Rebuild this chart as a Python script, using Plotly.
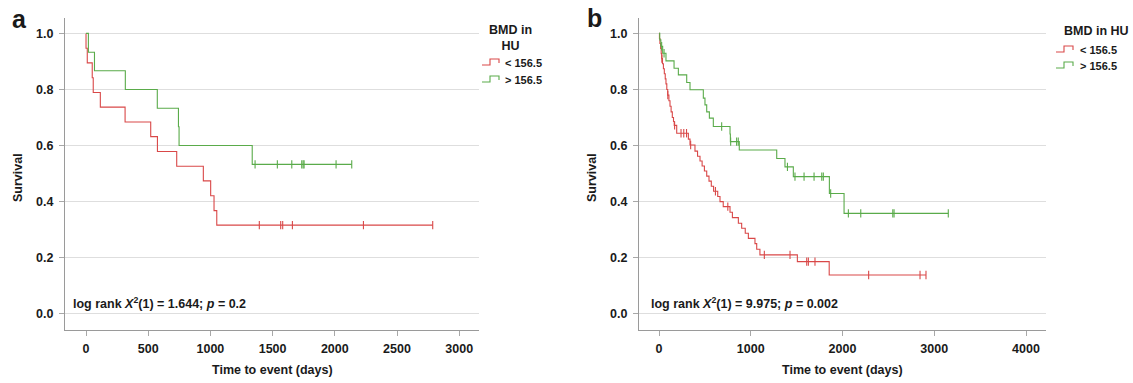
import plotly.graph_objects as go

# ---------------- data ----------------
# Panel a
a_low_event_t = [0, 10, 50, 58, 115, 314, 520, 574, 729, 943, 1002, 1029, 1051]
a_low_event_s = [0.947, 0.895, 0.842, 0.789, 0.737, 0.684, 0.632, 0.579, 0.526, 0.474, 0.421, 0.368, 0.316]
a_low_cens_t = [1393, 1565, 1581, 1659, 2230, 2787]

a_high_event_t = [19, 68, 316, 573, 743, 748, 1336]
a_high_event_s = [0.933, 0.867, 0.800, 0.733, 0.667, 0.600, 0.533]
a_high_cens_t = [1359, 1538, 1654, 1734, 1745, 1753, 2010, 2136]

# Panel b
b_low_event_t = [5, 10, 18, 24, 30, 38, 48, 58, 68, 76, 85, 95, 108, 120, 132, 145, 158, 166, 193,
                 320, 338, 392, 420, 447, 470, 495, 520, 545, 570, 595, 640, 665, 700, 774, 800,
                 865, 901, 940, 974, 1046, 1065, 1100, 1508, 1855]
b_low_event_s = [0.982, 0.964, 0.946, 0.928, 0.910, 0.892, 0.874, 0.856, 0.838, 0.820, 0.800, 0.780,
                 0.760, 0.740, 0.720, 0.700, 0.686, 0.672, 0.644, 0.623, 0.602, 0.580, 0.562, 0.545,
                 0.527, 0.509, 0.491, 0.473, 0.455, 0.437, 0.418, 0.400, 0.382, 0.362, 0.343, 0.323,
                 0.305, 0.287, 0.269, 0.250, 0.230, 0.210, 0.186, 0.138]
b_low_cens_t = [31, 96, 170, 240, 270, 300, 345, 615, 750, 1148, 1428, 1610, 1628, 1700, 2285, 2845, 2910]

b_high_event_t = [8, 20, 40, 76, 164, 211, 302, 338, 483, 501, 520, 549, 592, 774, 778, 875,
                  1283, 1373, 1464, 1857, 2017]
b_high_event_s = [0.977, 0.954, 0.929, 0.902, 0.876, 0.852, 0.825, 0.799, 0.769, 0.745, 0.720,
                  0.698, 0.668, 0.641, 0.614, 0.584, 0.554, 0.524, 0.489, 0.429, 0.358]
b_high_cens_t = [29, 55, 683, 781, 846, 864, 1400, 1482, 1581, 1690, 1774, 1791, 1871, 2064, 2199,
                 2548, 2562, 3153]

group_labels = ["< 156.5", "> 156.5"]
legend_title_a = "BMD in<br>HU"
legend_title_b = "BMD in HU"
stat_a = "<b>log rank <i>X</i><sup>2</sup>(1) = 1.644; <i>p</i> = 0.2</b>"
stat_b = "<b>log rank <i>X</i><sup>2</sup>(1) = 9.975; <i>p</i> = 0.002</b>"
x_ticks_a = [0, 500, 1000, 1500, 2000, 2500, 3000]
x_ticks_b = [0, 1000, 2000, 3000, 4000]
y_ticks = [0.0, 0.2, 0.4, 0.6, 0.8, 1.0]

RED = "#d94848"
GREEN = "#5aab4a"
FONT = "Liberation Sans, Arial, Helvetica, sans-serif"
W, H = 1133, 383


def px(x):
    return x / W


def py(y):
    return 1 - y / H


def step_value(times, surv, t):
    v = 1.0
    for ti, si in zip(times, surv):
        if ti <= t:
            v = si
    return v


def curve(times, surv, cens, color, xa, ya):
    last = max(times + cens)
    xs = [0] + times + [last]
    ys = [1.0] + surv + [surv[-1]]
    line = go.Scatter(x=xs, y=ys, mode="lines", line=dict(color=color, width=1.1, shape="hv"),
                      xaxis=xa, yaxis=ya, showlegend=False, hoverinfo="skip")
    cy = [step_value(times, surv, t) for t in cens]
    marks = go.Scatter(x=cens, y=cy, mode="markers",
                       marker=dict(symbol="line-ns-open", size=6, color=color,
                                   line=dict(color=color, width=1.1)),
                       xaxis=xa, yaxis=ya, showlegend=False, hoverinfo="skip")
    return [line, marks]


fig = go.Figure()
for tr in (curve(a_low_event_t, a_low_event_s, a_low_cens_t, RED, "x", "y")
           + curve(a_high_event_t, a_high_event_s, a_high_cens_t, GREEN, "x", "y")
           + curve(b_low_event_t, b_low_event_s, b_low_cens_t, RED, "x2", "y2")
           + curve(b_high_event_t, b_high_event_s, b_high_cens_t, GREEN, "x2", "y2")):
    fig.add_trace(tr)

ydom = [py(330), py(18)]
axis_common = dict(showline=True, linecolor="#9a9a9a", linewidth=1, ticks="outside", ticklen=5,
                   tickcolor="#a8a8a8", tickwidth=1, zeroline=False,
                   tickfont=dict(family=FONT, size=12.5, color="#1a1a1a", weight="bold"))
xcommon = dict(axis_common, showgrid=False, ticklabelstandoff=2)
ycommon = dict(axis_common, showgrid=True, gridcolor="#dedede", gridwidth=1,
               tickvals=y_ticks, tickformat=".1f", range=[-0.058, 1.055], ticklabelstandoff=3)

fig.update_layout(
    width=W, height=H, margin=dict(l=0, r=0, t=0, b=0),
    paper_bgcolor="white", plot_bgcolor="white",
    font=dict(family=FONT, color="#1a1a1a"),
    xaxis=dict(xcommon, domain=[px(65), px(479)], range=[-169, 3159], tickvals=x_ticks_a, anchor="y"),
    yaxis=dict(ycommon, domain=ydom, anchor="x"),
    xaxis2=dict(xcommon, domain=[px(639), px(1046)], range=[-218, 4218], tickvals=x_ticks_b, anchor="y2"),
    yaxis2=dict(ycommon, domain=ydom, anchor="x2"),
)

ann = []


def text(x, y, s, size=12.5, xanchor="center", angle=0, bold=True):
    ann.append(dict(x=px(x), y=py(y), xref="paper", yref="paper", text=(f"<b>{s}</b>" if bold else s),
                    showarrow=False, xanchor=xanchor, yanchor="middle", textangle=angle,
                    font=dict(family=FONT, size=size, color="#1a1a1a")))


# panel letters
text(19, 19, "a", size=25)
text(594, 18, "b", size=25)
# axis titles
text(18, 178, "Survival", size=12.5, angle=-90)
text(592, 178, "Survival", size=12.5, angle=-90)
text(272, 370, "Time to event (days)", size=12.5)
text(842, 370, "Time to event (days)", size=12.5)
# statistics
text(71, 303, stat_a, size=12.5, xanchor="left", bold=False)
text(649, 303, stat_b, size=12.5, xanchor="left", bold=False)
# legend a
text(510, 38, legend_title_a, size=12.5)
text(503, 63, group_labels[0], size=11, xanchor="left")
text(503, 80, group_labels[1], size=11, xanchor="left")
# legend b
text(1096, 31, legend_title_b, size=12.5)
text(1078, 50, group_labels[0], size=11, xanchor="left")
text(1078, 66, group_labels[1], size=11, xanchor="left")
fig.update_layout(annotations=ann)

shapes = []


def glyph(x0, yc, color):
    xa, xb, xc = x0, x0 + 8, x0 + 17
    ylo, yhi, yend = yc + 3, yc - 3, yc + 1
    path = (f"M {px(xa)},{py(ylo)} L {px(xb)},{py(ylo)} L {px(xb)},{py(yhi)} "
            f"L {px(xc)},{py(yhi)} L {px(xc)},{py(yend)}")
    shapes.append(dict(type="path", path=path, xref="paper", yref="paper",
                       line=dict(color=color, width=1.1)))


glyph(482, 62, RED)
glyph(482, 79, GREEN)
glyph(1056, 49, RED)
glyph(1056, 65, GREEN)
fig.update_layout(shapes=shapes)

fig.write_html("out.html", config={"displayModeBar": False},
               post_script="document.body.style.margin='0px';document.body.style.overflow='hidden';")
